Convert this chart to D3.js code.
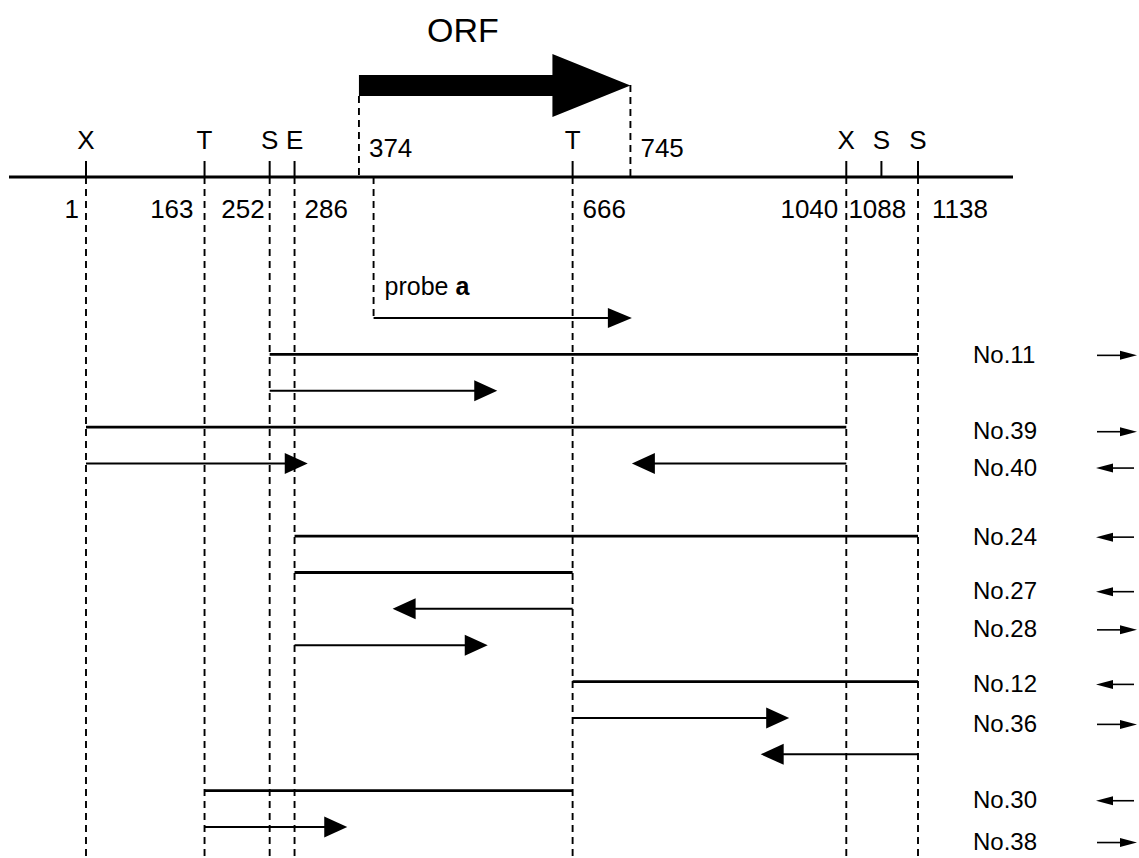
<!DOCTYPE html>
<html>
<head>
<meta charset="utf-8">
<script src="https://cdn.jsdelivr.net/npm/d3@7"></script>
<style>
  body { margin: 0; background: #fff; }
  svg { display: block; font-family: "Liberation Sans", Arial, Helvetica, sans-serif; }
</style>
</head>
<body>
<svg id="map"></svg>
<script>
// restriction sites on the 1138 bp fragment
var sitePos    = [1, 163, 252, 286, 666, 1040, 1088, 1138];
var siteEnzyme = ["X", "T", "S", "E", "T", "X", "S", "S"];
// sites that carry a guide line down through the clones
var guidePos   = [1, 163, 252, 286, 666, 1040, 1138];

// ORF and probe
var orfRange   = [374, 745];
var probeRange = [394, 747];
var probeName  = "probe";

// cloned inserts (plain lines)
var inserts = [
    {clone: "No.11", from: 252, to: 1138, lane: 1},
    {clone: "No.39", from: 1,   to: 1040, lane: 3},
    {clone: "No.24", from: 286, to: 1138, lane: 6},
    {clone: "No.27", from: 286, to: 666,  lane: 7},
    {clone: "No.12", from: 666, to: 1138, lane: 10},
    {clone: "No.30", from: 163, to: 666,  lane: 13}
];

// sequenced stretches (arrows, from -> to)
var reads = [
    {from: 252,  to: 563, lane: 2},
    {from: 1,    to: 304, lane: 4},
    {from: 1040, to: 747, lane: 4},
    {from: 666,  to: 420, lane: 8},
    {from: 286,  to: 550, lane: 9},
    {from: 666,  to: 962, lane: 11},
    {from: 1138, to: 923, lane: 12},
    {from: 163,  to: 358, lane: 14}
];

// clone names, orientation and the row of the name
var cloneNames  = ["No.11", "No.39", "No.40", "No.24", "No.27", "No.28", "No.12", "No.36", "No.30", "No.38"];
var cloneStrand = [1, 1, -1, -1, -1, 1, -1, 1, -1, 1];
var cloneLane   = [1, 3.1, 4.1, 6, 7.5, 8.55, 10.05, 11.15, 13.25, 14.4];

drawMap();

function drawMap() {
    var width = 1139, height = 858;
    var mapY = 177;

    var svg = d3.select("#map")
        .attr("width", width)
        .attr("height", height)
        .attr("viewBox", [0, 0, width, height]);

    var x = d3.scaleLinear([1, 1138], [86, 918]);
    var y = d3.scaleLinear([0, 14], [318, 827]);

    function dashed(xp, y1, y2) {
        svg.append("line")
            .attr("x1", xp).attr("x2", xp)
            .attr("y1", y1).attr("y2", y2)
            .attr("stroke", "#000")
            .attr("stroke-width", 1.9)
            .attr("stroke-dasharray", "7,5");
    }

    // arrow with filled triangular head
    function arrow(x1, x2, yp, headLen, headHalf, shaft) {
        var dir = x2 > x1 ? 1 : -1;
        var base = x2 - dir * headLen;
        svg.append("line")
            .attr("x1", x1).attr("x2", base + dir)
            .attr("y1", yp).attr("y2", yp)
            .attr("stroke", "#000")
            .attr("stroke-width", shaft);
        svg.append("path")
            .attr("d", d3.line()([[base, yp - headHalf], [x2, yp], [base, yp + headHalf]]) + "Z")
            .attr("fill", "#000");
    }

    // guide lines
    guidePos.forEach(function(p) { dashed(x(p), mapY, height); });
    dashed(x(orfRange[0]), 96, mapY);
    dashed(x(orfRange[1]), 85, mapY);
    dashed(x(probeRange[0]), mapY, y(0));

    // map line and site ticks
    svg.append("line")
        .attr("x1", 9).attr("x2", 1013)
        .attr("y1", mapY).attr("y2", mapY)
        .attr("stroke", "#000")
        .attr("stroke-width", 2.8);

    svg.append("g")
        .selectAll("line")
        .data(sitePos)
        .join("line")
        .attr("x1", d => x(d)).attr("x2", d => x(d))
        .attr("y1", mapY - 16).attr("y2", mapY)
        .attr("stroke", "#000")
        .attr("stroke-width", 2);

    svg.append("g")
        .selectAll("text")
        .data(sitePos)
        .join("text")
        .attr("x", d => x(d))
        .attr("y", 149)
        .attr("text-anchor", "middle")
        .attr("font-size", 26)
        .text((d, i) => siteEnzyme[i]);

    // position numbers under the line (1088 sits between the 1040 and 1138 guides)
    var numDx = {1: -7, 163: -11, 252: -5, 286: 10, 666: 10, 1040: -8, 1088: -33, 1138: 14};
    var numAnchor = {1: "end", 163: "end", 252: "end", 286: "start", 666: "start",
                     1040: "end", 1088: "start", 1138: "start"};
    svg.append("g")
        .selectAll("text")
        .data(sitePos)
        .join("text")
        .attr("x", d => x(d) + numDx[d])
        .attr("y", 218)
        .attr("text-anchor", d => numAnchor[d])
        .attr("font-size", 26)
        .text(d => d);

    // ORF arrow
    var orfY = 85.5, headLen = 78;
    var x0 = x(orfRange[0]), x1 = x(orfRange[1]);
    svg.append("path")
        .attr("d", d3.line()([
            [x0, orfY - 10.5], [x1 - headLen, orfY - 10.5], [x1 - headLen, orfY - 31.5],
            [x1, orfY], [x1 - headLen, orfY + 31.5], [x1 - headLen, orfY + 10.5], [x0, orfY + 10.5]
        ]) + "Z")
        .attr("fill", "#000");

    svg.append("text")
        .attr("x", 463).attr("y", 42)
        .attr("text-anchor", "middle")
        .attr("font-size", 34)
        .text("ORF");

    orfRange.forEach(function(p) {
        svg.append("text")
            .attr("x", x(p) + 10).attr("y", 157)
            .attr("font-size", 26)
            .text(p);
    });

    // probe
    var probeText = svg.append("text")
        .attr("x", x(probeRange[0]) + 11)
        .attr("y", y(0) - 23)
        .attr("font-size", 25)
        .text(probeName + " ");
    probeText.append("tspan").attr("font-weight", "bold").text("a");
    arrow(x(probeRange[0]), x(probeRange[1]), y(0), 24, 10, 2);

    // inserts
    svg.append("g")
        .selectAll("line")
        .data(inserts)
        .join("line")
        .attr("x1", d => x(d.from)).attr("x2", d => x(d.to))
        .attr("y1", d => y(d.lane)).attr("y2", d => y(d.lane))
        .attr("stroke", "#000")
        .attr("stroke-width", 2.8);

    // sequenced parts
    reads.forEach(function(d) {
        arrow(x(d.from), x(d.to), y(d.lane), 23, 10.5, 2);
    });

    // clone names with orientation
    cloneNames.forEach(function(name, i) {
        var yp = y(cloneLane[i]);
        svg.append("text")
            .attr("x", 973).attr("y", yp + 8.5)
            .attr("font-size", 24)
            .text(name);
        if (cloneStrand[i] > 0) arrow(1097, 1137, yp + 1, 17, 4.5, 1.6);
        else arrow(1134, 1096, yp + 1, 17, 4.5, 1.6);
    });
}
</script>
</body>
</html>
